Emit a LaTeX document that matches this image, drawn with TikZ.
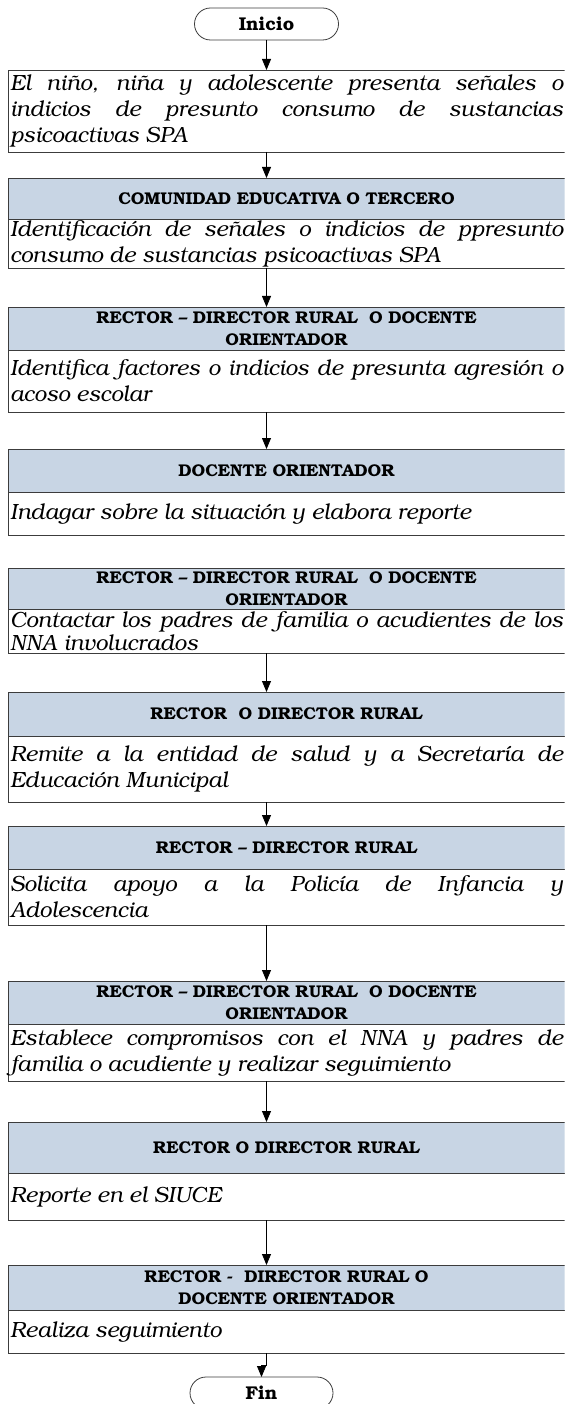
\documentclass[tikz,border=0pt]{standalone}
\usepackage[T1]{fontenc}
\usepackage{bookman}
\usetikzlibrary{arrows.meta,positioning,shapes.misc}
\definecolor{Head}{HTML}{C8D5E4}
\definecolor{Rule}{HTML}{3C3C3C}

\begin{document}
\begin{tikzpicture}[x=1pt,y=-1pt,
  term/.style={draw=Rule,line width=0.8pt,rounded rectangle,minimum width=144pt,
               minimum height=32pt,inner sep=0pt,outer sep=0pt,
               font=\fontsize{18.5}{20}\selectfont\bfseries},
  head/.style={draw=Rule,line width=0.8pt,fill=Head,inner xsep=2pt,inner ysep=0pt,
               outer sep=0pt,text width=553pt,align=center,
               font=\fontsize{17}{22}\selectfont\bfseries},
  body/.style={draw=Rule,line width=0.8pt,inner xsep=2pt,inner ysep=0pt,outer sep=0pt,
               text width=553pt,align=justify,font=\fontsize{22}{26}\selectfont\itshape},
  ar/.style={-{Triangle[length=11pt,width=9pt]},line width=0.8pt}]
\useasboundingbox (0,0) rectangle (566,1404);
\clip (0,0) rectangle (564.5,1404);
\node[term] (ini) at (266.5,24) {Inicio};
\node[body,minimum height=82pt,anchor=north west] (b1) at (8,70)
  {El niño, niña y adolescente presenta señales o\linebreak
   indicios de presunto consumo de sustancias\linebreak psicoactivas SPA};
% comunidad educativa
\node[head,minimum height=41pt,below=26pt of b1.south west,anchor=north west] (h2)
  {COMUNIDAD EDUCATIVA O TERCERO};
\node[body,minimum height=49pt,below=0pt of h2.south west,anchor=north west] (d2)
  {Identificación de señales o indicios de ppresunto\linebreak
   consumo de sustancias psicoactivas SPA};
\node[head,minimum height=43pt,below=39pt of d2.south west,anchor=north west] (h3)
  {RECTOR -- DIRECTOR RURAL\ \ O DOCENTE\\ ORIENTADOR};
\node[body,minimum height=62pt,below=0pt of h3.south west,anchor=north west] (d3)
  {Identifica factores o indicios de presunta agresión o\linebreak acoso escolar};
\node[head,minimum height=43pt,below=37pt of d3.south west,anchor=north west] (h4)
  {DOCENTE ORIENTADOR};
\node[body,minimum height=43pt,below=0pt of h4.south west,anchor=north west] (d4)
  {Indagar sobre la situación y elabora reporte};
% contacto con la familia
\node[head,minimum height=41pt,below=33pt of d4.south west,anchor=north west] (h5)
  {RECTOR -- DIRECTOR RURAL\ \ O DOCENTE\\ ORIENTADOR};
\node[body,minimum height=44pt,below=0pt of h5.south west,anchor=north west,
      font=\fontsize{22}{23.5}\selectfont\itshape] (d5)
  {Contactar los padres de familia o acudientes de los\linebreak NNA involucrados};
\node[head,minimum height=44pt,below=39pt of d5.south west,anchor=north west] (h6)
  {RECTOR\ \ O DIRECTOR RURAL};
\node[body,minimum height=66pt,below=0pt of h6.south west,anchor=north west] (d6)
  {Remite a la entidad de salud y a Secretaría de\linebreak Educación Municipal};
\node[head,minimum height=43pt,below=24pt of d6.south west,anchor=north west] (h7)
  {RECTOR -- DIRECTOR RURAL};
\node[body,minimum height=56pt,below=0pt of h7.south west,anchor=north west] (d7)
  {Solicita apoyo a la Policía de Infancia y\linebreak Adolescencia};
% seguimiento
\node[head,minimum height=43pt,below=56pt of d7.south west,anchor=north west] (h8)
  {RECTOR -- DIRECTOR RURAL\ \ O DOCENTE\\ ORIENTADOR};
\node[body,minimum height=57pt,below=0pt of h8.south west,anchor=north west] (d8)
  {Establece compromisos con el NNA y padres de\linebreak
   familia o acudiente y realizar seguimiento};
\node[head,minimum height=51pt,below=41pt of d8.south west,anchor=north west] (h9)
  {RECTOR O DIRECTOR RURAL};
\node[body,minimum height=47pt,below=0pt of h9.south west,anchor=north west] (d9)
  {Reporte en el SIUCE};
\node[head,minimum height=45pt,below=45pt of d9.south west,anchor=north west] (h10)
  {RECTOR -\ \ DIRECTOR RURAL O\\ DOCENTE ORIENTADOR};
\node[body,minimum height=43pt,below=0pt of h10.south west,anchor=north west] (d10)
  {Realiza seguimiento};
\node[term,minimum width=143pt] (fin) at (261.5,1393) {Fin};
\draw[ar] (ini.south) -- (b1.north -| ini.south);
\foreach \a/\b in {b1/h2,d2/h3,d3/h4,d5/h6,d6/h7,d7/h8,d8/h9,d9/h10}
  \draw[ar] (\a.south -| ini.south) -- (\b.north -| ini.south);
\draw[ar] (d10.south -| ini.south) -- ++(0,12) -| (fin.north);
\end{tikzpicture}
\end{document}
